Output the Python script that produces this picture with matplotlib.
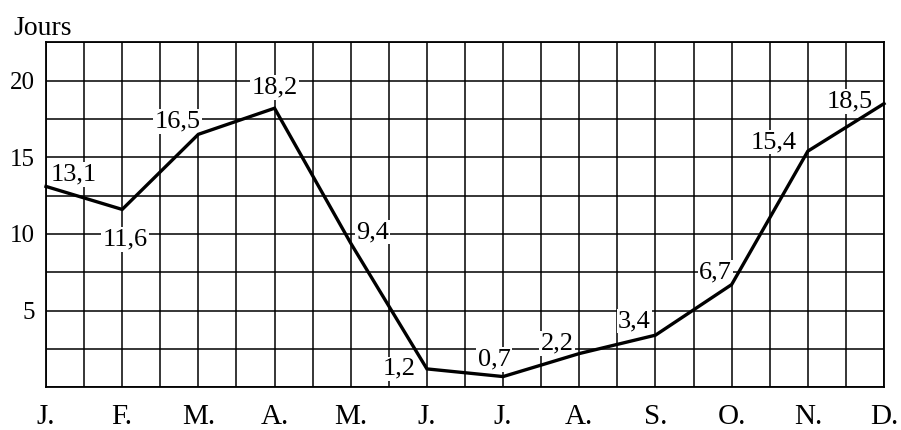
import matplotlib.pyplot as plt
from matplotlib.ticker import MultipleLocator

# Jours de pluie par mois
months = ["J.", "F.", "M.", "A.", "M.", "J.", "J.", "A.", "S.", "O.", "N.", "D."]
days = [13.1, 11.6, 16.5, 18.2, 9.4, 1.2, 0.7, 2.2, 3.4, 6.7, 15.4, 18.5]
day_labels = ["13,1", "11,6", "16,5", "18,2", "9,4", "1,2",
              "0,7", "2,2", "3,4", "6,7", "15,4", "18,5"]
y_ticks = [5, 10, 15, 20]

# label offsets in pixels (dx, dy) from each point
offsets = [(28, 12), (3, -30), (-21, 13), (0, 21), (22, 11), (-28, 0),
           (-9, 17), (-22, 10), (-21, 14), (-16, 12), (-34, 9), (-34, 2)]

plt.rcParams['font.family'] = ['Liberation Serif', 'DejaVu Serif']

fig = plt.figure(figsize=(9.01, 4.30), dpi=100)
ax = fig.add_axes([46 / 901, 1 - 387.3 / 430, 838 / 901, 345 / 430])

x = list(range(len(months)))
ax.plot(x, days, color='black', linewidth=2.4, solid_joinstyle='miter',
        clip_on=False, zorder=3)

for xi, yi, lab, (dx, dy) in zip(x, days, day_labels, offsets):
    ax.annotate(lab, (xi, yi), xytext=(dx, dy), textcoords='offset pixels',
                ha='center', va='center', fontsize=19, zorder=2.5,
                bbox=dict(boxstyle='square,pad=0.05', fc='white', ec='none'))

ax.set_xlim(0, 11)
ax.set_ylim(0, 22.5)
ax.xaxis.set_minor_locator(MultipleLocator(0.5))
ax.yaxis.set_minor_locator(MultipleLocator(2.5))
ax.set_xticks(x)
ax.set_xticklabels(months, fontsize=21)
ax.set_yticks(y_ticks)
ax.set_yticklabels([str(t) for t in y_ticks], fontsize=18)
ax.tick_params(which='both', length=0)
ax.tick_params(axis='x', pad=12)
ax.tick_params(axis='y', pad=8)
ax.grid(True, which='both', color='black', linewidth=1.1)
ax.set_axisbelow(True)
for s in ax.spines.values():
    s.set_linewidth(1.3)

fig.text(13 / 901, 1 - 35 / 430, "Jours", fontsize=20, ha='left', va='baseline')

fig.savefig("out.png", dpi=100)
